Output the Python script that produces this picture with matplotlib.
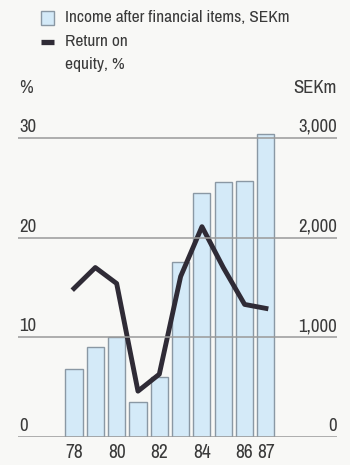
import matplotlib.pyplot as plt
from matplotlib.patches import Rectangle
from matplotlib.lines import Line2D

# Income after financial items (SEKm) and return on equity (%), 1978-87
years = [78, 79, 80, 81, 82, 83, 84, 85, 86, 87]
income = [680, 900, 1000, 350, 600, 1760, 2450, 2560, 2570, 3040]
roe = [14.9, 17.0, 15.4, 4.6, 6.3, 16.1, 21.1, 17.0, 13.3, 12.9]
year_labels = ["78", "", "80", "", "82", "", "84", "", "86", "87"]
pct_ticks = [0, 10, 20, 30]
sek_labels = ["0", "1,000", "2,000", "3,000"]

plt.rcParams["font.family"] = ["Archivo Narrow", "Roboto Condensed", "DejaVu Sans"]

bg = "#f8f8f6"
txt = "#3a3a3a"
bar_fill = "#d4eaf8"
bar_edge = "#8a98a4"
line_col = "#2f2b36"
grid_col = "#9a9a9a"
fs = 13.5

fig = plt.figure(figsize=(3.5, 4.65), dpi=100, facecolor=bg)
ax = fig.add_axes([0.0514, 0.0602, 0.9114, 0.6753])
ax.set_facecolor(bg)
ax2 = ax.twinx()

ax.set_xlim(75.375, 90.33)
ax.set_ylim(0, 31.5)
ax2.set_ylim(0, 3150)

ax2.bar(years, income, width=0.8, color=bar_fill, edgecolor=bar_edge,
        linewidth=1.0, zorder=1)
for v in pct_ticks:
    ax.axhline(v, color=grid_col, linewidth=1.1, zorder=2)
ax2.plot(years, [r * 100 for r in roe], color=line_col,
         linewidth=3.5, solid_joinstyle="round", zorder=3)

# keep the percent axis (with grid) drawn above the bars
ax.set_zorder(ax2.get_zorder() + 1)
ax.patch.set_visible(False)
ax2.patch.set_facecolor(bg)
ax2.patch.set_visible(True)

for a in (ax, ax2):
    for s in a.spines.values():
        s.set_visible(False)
    a.set_yticks([])
ax.set_xticks(years)
ax.set_xticklabels(year_labels, fontsize=14, color=txt)
ax.tick_params(axis="x", length=0, pad=4)

# tick values sit just above their grid lines at both edges
for v, lab in zip(pct_ticks, sek_labels):
    ax.text(0.004, v + 0.3, str(v), transform=ax.get_yaxis_transform(),
            ha="left", va="bottom", fontsize=fs, color=txt)
    ax.text(1.0, v + 0.3, lab, transform=ax.get_yaxis_transform(),
            ha="right", va="bottom", fontsize=fs, color=txt)

fig.text(0.055, 0.81, "%", ha="left", va="center", fontsize=fs, color=txt)
fig.text(0.963, 0.81, "SEKm", ha="right", va="center", fontsize=fs, color=txt)

# legend drawn by hand: swatch, bar marker and wrapped label
fig.patches.append(Rectangle((41 / 350, 1 - 25 / 465), 13 / 350, 14 / 465,
                             transform=fig.transFigure, facecolor=bar_fill,
                             edgecolor=bar_edge, linewidth=1.0))
fig.lines.append(Line2D([41 / 350, 54 / 350], [1 - 42 / 465] * 2,
                        transform=fig.transFigure, color=line_col,
                        linewidth=3.8, solid_capstyle="butt"))
fig.text(65 / 350, 1 - 18 / 465, "Income after financial items, SEKm",
         ha="left", va="center", fontsize=12.5, color=txt)
fig.text(65 / 350, 1 - 42 / 465, "Return on", ha="left", va="center",
         fontsize=12.5, color=txt)
fig.text(65 / 350, 1 - 64 / 465, "equity, %", ha="left", va="center",
         fontsize=12.5, color=txt)

fig.savefig("out.png", dpi=100, facecolor=bg)
